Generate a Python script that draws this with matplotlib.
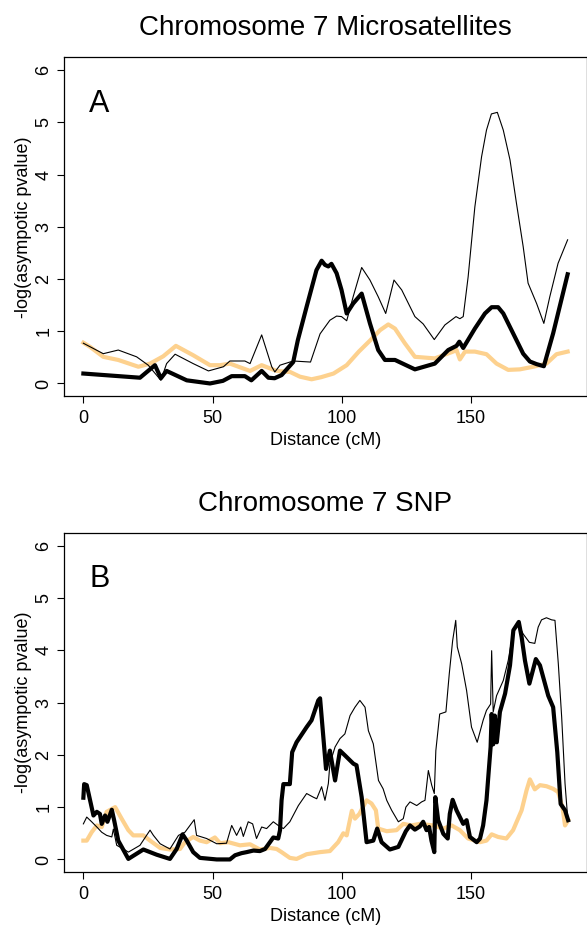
import matplotlib
matplotlib.use("Agg")
import matplotlib.pyplot as plt

plt.rcParams["font.family"] = ["Liberation Sans", "DejaVu Sans"]

ORANGE = "#FDD18E"

# panel A: microsatellites
a_thick_x = [0, 21.9, 27.7, 30, 32.2, 40, 49, 54, 57.4, 62.5, 65, 69, 71.6, 74, 76.7, 81.2, 83, 86.4, 90.2,
             92.2, 93.5, 94.8, 96, 98, 99.9, 101.9, 104.4, 107.7, 110.9, 114.1, 116.7, 120.6, 128.3, 136,
             141.2, 144.4, 145.5, 147, 151.5, 155.4, 158, 160.5, 162.5, 166.3, 170.2, 172.8, 175.4, 178.2,
             181.8, 187.4]
a_thick_y = [0.19, 0.11, 0.35, 0.1, 0.24, 0.06, 0.0, 0.05, 0.14, 0.14, 0.06, 0.24, 0.11, 0.1, 0.16, 0.41,
             0.83, 1.47, 2.17, 2.35, 2.27, 2.24, 2.29, 2.11, 1.79, 1.34, 1.53, 1.72, 1.15, 0.64, 0.45, 0.45,
             0.27, 0.38, 0.64, 0.72, 0.8, 0.68, 1.05, 1.34, 1.46, 1.46, 1.34, 0.96, 0.57, 0.42, 0.37, 0.33,
             0.96, 2.09]

a_thin_x = [0, 7.7, 13.5, 20.6, 25.1, 30, 32.2, 35.5, 42.5, 48.4, 54.2, 56.7, 62.5, 64.5, 69, 72.9, 74.1,
            76.1, 81.2, 87.9, 91.6, 95.4, 98, 99.9, 101.9, 104.4, 107.7, 110.9, 114.1, 117, 120.2, 123.2,
            128.3, 131.5, 135.8, 139.9, 144.2, 145.7, 147, 148.9, 151.5, 154.1, 156, 157.9, 160.2, 162.5,
            165.1, 167.6, 170.2, 172.1, 175.4, 178.2, 180.5, 183.7, 187.4]
a_thin_y = [0.77, 0.57, 0.64, 0.51, 0.35, 0.06, 0.38, 0.56, 0.38, 0.24, 0.32, 0.43, 0.43, 0.38, 0.93, 0.32,
            0.22, 0.35, 0.43, 0.41, 0.95, 1.21, 1.29, 1.28, 1.2, 1.66, 2.22, 1.98, 1.66, 1.34, 1.98, 1.79,
            1.28, 1.14, 0.84, 1.12, 1.28, 1.24, 1.28, 2.04, 3.38, 4.34, 4.85, 5.16, 5.19, 4.85, 4.28, 3.45,
            2.62, 1.92, 1.53, 1.15, 1.66, 2.3, 2.75]

a_orange_x = [0, 2.6, 7.7, 13.5, 21.3, 25.8, 30.9, 35.8, 42.5, 49, 52.9, 56.7, 64.5, 69, 74.8, 80, 83.8,
              88.3, 92, 96.8, 101.9, 106.6, 110.9, 114.8, 118, 120.6, 124.4, 128.3, 136, 143.1, 144.4,
              145.7, 147.7, 151.5, 156, 159.9, 164.4, 168.9, 174.1, 179.2, 183.1, 187.4]
a_orange_y = [0.78, 0.7, 0.51, 0.45, 0.32, 0.38, 0.52, 0.72, 0.54, 0.35, 0.35, 0.38, 0.24, 0.35, 0.24,
              0.22, 0.13, 0.08, 0.12, 0.19, 0.35, 0.61, 0.82, 1.02, 1.13, 1.05, 0.77, 0.51, 0.48, 0.61,
              0.64, 0.46, 0.61, 0.61, 0.56, 0.38, 0.26, 0.27, 0.32, 0.38, 0.56, 0.61]

# panel B: SNP
b_thick_x = [0, 0.3, 1.3, 3.9, 5.2, 6.4, 7.1, 8.4, 9.3, 11, 11.9, 13.5, 17.4, 23.2, 28.4, 33.5, 36.1, 38.4,
             40, 42.5, 45.1, 51.6, 56.7, 58.7, 61.2, 63.2, 65.8, 68.3, 70.3, 72.2, 73.5, 75.4, 76.1, 76.7,
             77.4, 79.9, 80.8, 82.5, 86.4, 88.3, 89.6, 90.9, 91.6, 93.9, 95.4, 97.4, 99.3, 101.2, 104.5,
             105.7, 107.7, 109.6, 112.2, 113.7, 115.4, 118.6, 121.9, 124.8, 126.4, 128.3, 130.2, 131.5,
             132.8, 133.8, 134.7, 135.8, 136.2, 137.3, 139.3, 141, 141.8, 142.9, 144.4, 147, 148.3, 149.6,
             152.2, 153.5, 154.7, 156, 156.7, 157.6, 158, 158.6, 159.2, 160, 161.2, 163.2, 165.1, 166.4,
             168.5, 169.6, 170.9, 172.6, 175.1, 176.7, 179.9, 181.8, 183.4, 184.7, 186.4, 187.6]
b_thick_y = [1.18, 1.44, 1.42, 0.84, 0.91, 0.87, 0.68, 0.84, 0.72, 0.95, 0.75, 0.36, 0.01, 0.19, 0.09,
             0.01, 0.2, 0.48, 0.36, 0.14, 0.03, 0.0, 0.0, 0.08, 0.12, 0.14, 0.17, 0.16, 0.2, 0.33, 0.42,
             0.4, 0.56, 1.13, 1.44, 1.44, 2.05, 2.24, 2.53, 2.66, 2.85, 3.04, 3.08, 1.73, 2.08, 1.51, 2.08,
             1.99, 1.83, 1.8, 1.19, 0.33, 0.36, 0.59, 0.33, 0.19, 0.24, 0.54, 0.65, 0.57, 0.63, 0.72,
             0.56, 0.62, 0.36, 0.14, 1.19, 0.75, 0.49, 0.4, 0.87, 1.14, 0.94, 0.68, 0.75, 0.43, 0.33, 0.4,
             0.65, 1.13, 1.58, 2.15, 2.78, 2.2, 2.75, 2.24, 2.82, 3.17, 3.71, 4.38, 4.54, 4.25, 3.8, 3.36,
             3.83, 3.71, 3.13, 2.91, 2.05, 1.06, 0.94, 0.75]

b_thin_x = [0, 1.3, 3.2, 5.2, 7.1, 9, 11, 11.6, 12.9, 15.5, 17.4, 21.9, 25.8, 27.1, 29.7, 33.5, 36.8, 39.3,
            42.9, 43.8, 47.7, 51.6, 55.4, 57.4, 59.3, 60.9, 61.9, 63.8, 65.5, 67, 69, 70.9, 73.5, 75.4,
            77.4, 79.9, 83.2, 86.4, 89, 90.3, 92.2, 93.5, 94.8, 95.4, 97.4, 99.3, 101.2, 103.2, 105.1,
            107, 109, 110.3, 112.2, 114.2, 116, 117.4, 119.3, 121.9, 123.8, 124.8, 126.4, 129, 130.9,
            132.2, 133.5, 134.8, 135.8, 136.4, 137.9, 140.3, 141.6, 142.9, 144.1, 144.7, 146.4, 148.3,
            150.2, 152.4, 154.7, 156, 157.6, 158, 158.6, 159.9, 162.5, 164.4, 166.4, 168.3, 170.2, 172.6,
            174.7, 176, 177.3, 179.2, 181.2, 182.5, 183.8, 185.1, 186.4, 187.3]
b_thin_y = [0.68, 0.81, 0.72, 0.62, 0.52, 0.46, 0.43, 0.58, 0.27, 0.2, 0.14, 0.27, 0.56, 0.46, 0.3, 0.2,
            0.46, 0.52, 0.76, 0.46, 0.4, 0.3, 0.31, 0.65, 0.46, 0.62, 0.44, 0.72, 0.68, 0.4, 0.62, 0.59,
            0.72, 0.65, 0.59, 0.72, 1.03, 1.26, 1.19, 1.16, 1.39, 1.13, 1.45, 1.83, 2.15, 2.31, 2.4, 2.75,
            2.91, 3.04, 2.91, 2.46, 2.21, 1.51, 1.35, 1.13, 0.94, 0.72, 0.78, 1.0, 1.1, 1.03, 1.1, 1.13,
            1.7, 1.42, 1.26, 2.08, 2.78, 2.82, 3.55, 4.18, 4.57, 4.06, 3.74, 3.23, 2.53, 2.24, 2.66, 2.85,
            2.97, 3.99, 2.82, 3.13, 3.42, 3.8, 4.38, 4.5, 4.31, 4.15, 4.13, 4.44, 4.58, 4.62, 4.58, 4.57,
            3.74, 2.72, 1.45, 0.87]

b_orange_x = [0, 1.3, 3.2, 5.2, 7.1, 9, 12.3, 14.8, 17.4, 19.3, 23.2, 25.8, 29.7, 33.5, 37.4, 39.3, 42.5,
              45.1, 47.7, 50.9, 52.9, 56.1, 60.6, 64.5, 68.3, 72.2, 74.8, 76.7, 79.9, 82.5, 86.4, 91.6,
              95.4, 98.6, 100.6, 101.9, 103.9, 105.1, 106.8, 109.6, 111.5, 113.2, 114.1, 117.4, 121.2,
              123.8, 127, 130.2, 135.4, 139.3, 142.5, 145.7, 148.9, 153.5, 156, 158, 160.5, 163.7, 166.3,
              169.6, 171.5, 172.8, 174.7, 176.7, 179.2, 181.8, 183.7, 185.4, 186.4, 187.6]
b_orange_y = [0.36, 0.36, 0.52, 0.65, 0.62, 0.91, 1.0, 0.78, 0.56, 0.46, 0.46, 0.36, 0.22, 0.19, 0.2,
              0.33, 0.43, 0.36, 0.33, 0.42, 0.31, 0.33, 0.27, 0.29, 0.19, 0.22, 0.2, 0.14, 0.03, 0.01,
              0.1, 0.14, 0.16, 0.33, 0.5, 0.46, 0.93, 0.78, 0.87, 1.13, 1.07, 0.94, 0.59, 0.54, 0.56, 0.68,
              0.65, 0.68, 0.65, 0.59, 0.65, 0.56, 0.4, 0.33, 0.36, 0.48, 0.43, 0.4, 0.56, 0.94, 1.32, 1.53,
              1.34, 1.42, 1.4, 1.35, 1.29, 1.0, 0.65, 0.75]

y_ticks = [0, 1, 2, 3, 4, 5, 6]
x_ticks = [0, 50, 100, 150]

W, H = 587, 934
fig = plt.figure(figsize=(W / 100, H / 100), dpi=100)


def make_panel(rect, title, letter, thin, thick, orange):
    ax = fig.add_axes([rect[0] / W, 1 - rect[3] / H, (rect[2] - rect[0]) / W, (rect[3] - rect[1]) / H])
    ax.plot(orange[0], orange[1], color=ORANGE, lw=3.0, solid_joinstyle="round")
    ax.plot(thin[0], thin[1], color="black", lw=0.8)
    ax.plot(thick[0], thick[1], color="black", lw=3.0, solid_joinstyle="round")
    ax.set_xlim(-7.5, 194.9)
    ax.set_ylim(-0.24, 6.24)
    ax.set_xticks(x_ticks)
    ax.set_yticks(y_ticks)
    ax.set_yticklabels([str(t) for t in y_ticks], rotation=90, va="center")
    ax.tick_params(length=5, width=0.8, labelsize=13, pad=5)
    ax.tick_params(axis="y", pad=3.5)
    for s in ax.spines.values():
        s.set_linewidth(0.9)
    ax.set_xlabel("Distance (cM)", fontsize=13, labelpad=4)
    ax.set_ylabel("-log(asympotic pvalue)", fontsize=13, labelpad=2)
    ax.set_title(title, fontsize=20, pad=16)
    ax.text(6.2, 5.2, letter, fontsize=22, ha="center", va="baseline")
    return ax


make_panel((64, 57.5, 587, 396), "Chromosome 7 Microsatellites", "A",
           (a_thin_x, a_thin_y), (a_thick_x, a_thick_y), (a_orange_x, a_orange_y))
make_panel((64, 533, 587, 872), "Chromosome 7 SNP", "B",
           (b_thin_x, b_thin_y), (b_thick_x, b_thick_y), (b_orange_x, b_orange_y))

fig.savefig("out.png", dpi=100)
